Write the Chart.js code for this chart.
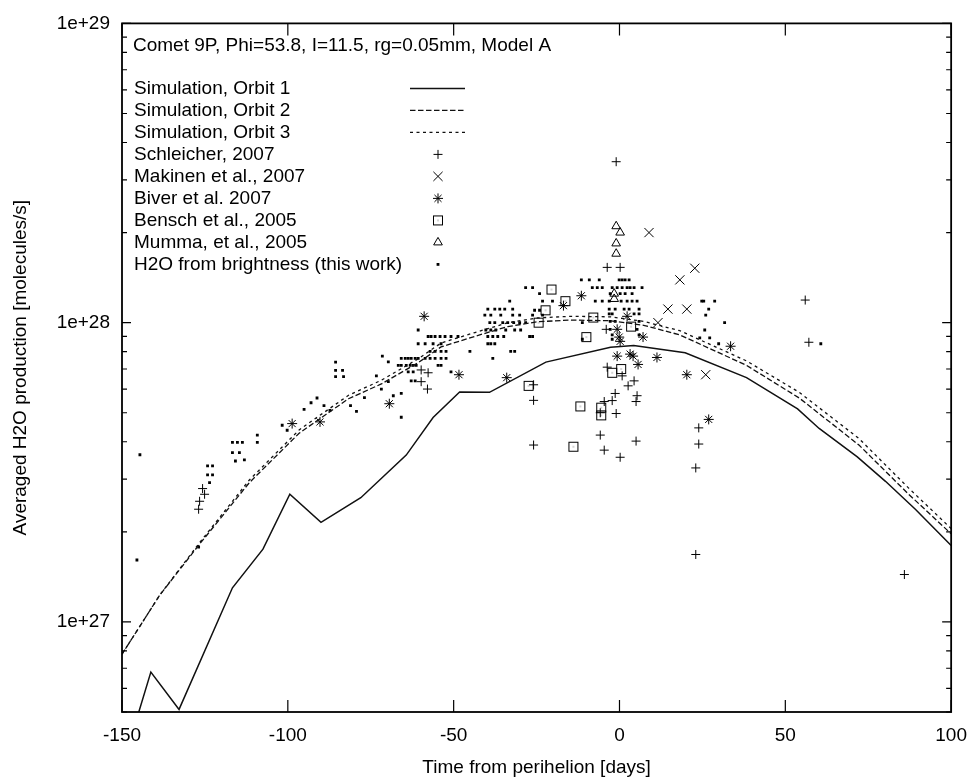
<!DOCTYPE html>
<html>
<head>
<meta charset="utf-8">
<script src="https://cdn.jsdelivr.net/npm/chart.js@4.4.1/dist/chart.umd.min.js"></script>
<style>
  html, body { margin: 0; padding: 0; background: #fff; }
</style>
</head>
<body>
<canvas id="chart" width="979" height="784"></canvas>
<script>
// axis ticks
const xTicks = [-150, -100, -50, 0, 50, 100];
const yTicks = [1e27, 1e28, 1e29];

const keyTitle = 'Comet 9P, Phi=53.8, I=11.5, rg=0.05mm, Model A';

// simulation curves, [days from perihelion, molecules/s]
const orbit1 = [
    [-147, 4.2e26], [-141.3, 6.8e26], [-132.8, 5.1e26], [-116.7, 1.3e27], [-107.5, 1.75e27],
    [-99.4, 2.67e27], [-90.0, 2.15e27], [-78.0, 2.6e27], [-64.3, 3.61e27], [-56.2, 4.82e27],
    [-48.2, 5.87e27], [-39.2, 5.85e27], [-22.2, 7.38e27], [-2.7, 8.28e27], [4.3, 8.39e27],
    [19.8, 7.93e27], [38.3, 6.55e27], [53.7, 5.15e27], [60.2, 4.43e27], [71.7, 3.56e27],
    [80.2, 2.95e27], [89.2, 2.38e27], [100, 1.8e27]
];
const orbit2 = [
    [-150, 7.8e26], [-138.6, 1.23e27], [-126.6, 1.82e27], [-111.6, 2.92e27], [-96.6, 4.27e27],
    [-81.7, 5.57e27], [-71.8, 6.24e27], [-60.7, 7.35e27], [-53.8, 8.3e27], [-43.6, 9.0e27],
    [-33.7, 9.7e27], [-24.7, 1.007e28], [-14.8, 1.02e28], [-2.7, 1.015e28], [7.3, 9.8e27],
    [18.2, 9.1e27], [38.3, 7.2e27], [54.2, 5.6e27], [72.2, 3.9e27], [87.2, 2.67e27], [100, 1.97e27]
];
const orbit3 = [
    [-150, 7.8e26], [-138.6, 1.23e27], [-126.6, 1.84e27], [-111.6, 2.98e27], [-96.6, 4.38e27],
    [-81.7, 5.72e27], [-71.8, 6.42e27], [-60.7, 7.57e27], [-53.8, 8.55e27], [-43.6, 9.27e27],
    [-33.7, 9.99e27], [-24.7, 1.037e28], [-14.8, 1.05e28], [-2.7, 1.046e28], [7.3, 1.01e28],
    [18.2, 9.4e27], [38.3, 7.45e27], [54.2, 5.85e27], [72.2, 4.1e27], [87.2, 2.8e27], [100, 2.05e27]
];

// observations
const schleicher = [
    [-125.7, 2.79e27], [-125.1, 2.67e27], [-126.6, 2.53e27], [-126.9, 2.38e27],
    [-59.8, 6.95e27], [-57.7, 6.8e27], [-59.8, 6.35e27], [-57.9, 6.0e27],
    [-25.9, 6.2e27], [-25.9, 5.5e27], [-25.9, 3.9e27],
    [-3.7, 1.53e28], [0.2, 1.53e28], [-1.0, 3.45e28], [-4.0, 9.5e27],
    [-3.7, 7.1e27], [0.8, 6.64e27], [4.4, 6.39e27], [2.6, 6.15e27], [5.3, 5.7e27],
    [-1.3, 5.8e27], [-2.2, 5.49e27], [5.0, 5.45e27], [-4.6, 5.45e27], [-1.0, 4.97e27],
    [-5.8, 5.0e27], [-5.8, 4.21e27], [5.0, 4.02e27], [-4.6, 3.75e27], [0.2, 3.55e27],
    [23.9, 4.45e27], [23.9, 3.93e27], [23.0, 3.27e27], [23.0, 1.68e27],
    [56.0, 1.19e28], [57.1, 8.6e27], [85.9, 1.44e27]
];
const makinen = [
    [8.9, 2.0e28], [22.7, 1.52e28], [18.2, 1.39e28], [14.6, 1.11e28],
    [20.3, 1.11e28], [11.6, 1.0e28], [26.0, 6.7e27]
];
const biver = [
    [-98.7, 4.6e27], [-90.3, 4.66e27], [-69.4, 5.36e27], [-58.9, 1.05e28], [-48.4, 6.7e27],
    [-34.0, 6.55e27], [-16.9, 1.14e28], [-11.5, 1.23e28], [-0.7, 9.5e27], [-0.1, 8.95e27],
    [2.3, 1.05e28], [3.2, 7.85e27], [5.6, 7.25e27], [-0.7, 7.73e27], [7.1, 8.95e27],
    [11.3, 7.65e27], [20.3, 6.7e27], [26.9, 4.75e27], [33.5, 8.34e27], [0.2, 8.66e27], [4.1, 7.73e27]
];
const bensch = [
    [-20.5, 1.29e28], [-16.3, 1.18e28], [-22.3, 1.1e28], [-24.4, 1.0e28], [-7.9, 1.04e28],
    [-10.0, 8.95e27], [3.5, 9.7e27], [-27.4, 6.15e27], [-11.8, 5.25e27], [-5.5, 5.2e27],
    [-5.5, 4.9e27], [-2.2, 6.8e27], [0.5, 7.0e27], [-13.9, 3.85e27]
];
const mumma = [
    [-1.0, 2.1e28], [0.2, 2.0e28], [-1.0, 1.84e28], [-1.0, 1.7e28], [-1.6, 1.25e28], [-1.6, 1.2e28]
];
const brightness = [
    [-144.6, 3.62e27], [-145.5, 1.61e27],
    [-124.2, 3.32e27], [-122.7, 3.32e27], [-124.2, 3.1e27], [-122.7, 3.1e27], [-123.6, 2.92e27], [-126.9, 1.78e27],
    [-116.7, 3.98e27], [-115.2, 3.98e27], [-113.7, 3.98e27], [-116.7, 3.68e27], [-114.6, 3.68e27],
    [-115.8, 3.45e27], [-113.1, 3.48e27], [-109.2, 4.21e27], [-109.2, 3.98e27],
    [-101.7, 4.54e27], [-100.2, 4.37e27], [-95.1, 5.13e27], [-93.0, 5.4e27], [-91.2, 5.6e27],
    [-89.1, 5.28e27], [-87.3, 5.09e27], [-85.6, 7.38e27], [-85.6, 6.93e27], [-83.5, 6.93e27],
    [-85.6, 6.6e27], [-83.2, 6.6e27], [-81.1, 5.28e27], [-79.3, 5.05e27], [-76.9, 5.62e27],
    [-71.5, 7.73e27], [-69.7, 7.4e27], [-73.3, 6.64e27], [-69.7, 6.35e27], [-71.8, 6.0e27], [-68.2, 5.7e27],
    [-60.7, 9.45e27],
    [-57.7, 8.99e27], [-56.8, 8.99e27], [-55.6, 8.99e27], [-54.1, 8.99e27], [-52.6, 8.99e27], [-50.8, 8.99e27], [-48.7, 8.99e27],
    [-60.7, 8.5e27], [-58.6, 8.5e27], [-56.2, 8.5e27], [-53.8, 8.5e27],
    [-57.1, 8.02e27], [-55.6, 8.02e27], [-53.8, 8.02e27], [-52.3, 8.02e27], [-45.1, 8.02e27],
    [-65.8, 7.6e27], [-64.6, 7.6e27], [-63.7, 7.6e27], [-62.8, 7.6e27], [-61.6, 7.6e27], [-60.7, 7.6e27],
    [-58.6, 7.6e27], [-57.1, 7.6e27], [-55.6, 7.6e27], [-53.8, 7.6e27], [-52.3, 7.6e27], [-38.2, 7.6e27],
    [-66.7, 7.2e27], [-65.8, 7.2e27], [-64.3, 7.2e27], [-63.1, 7.2e27], [-62.2, 7.2e27], [-61.3, 7.2e27],
    [-54.7, 7.2e27], [-53.8, 7.2e27],
    [-63.7, 6.85e27], [-62.2, 6.85e27], [-50.8, 6.85e27], [-62.8, 6.39e27], [-61.6, 6.39e27],
    [-65.8, 5.8e27], [-65.8, 4.83e27],
    [-39.7, 1.11e28], [-37.6, 1.11e28], [-36.1, 1.11e28], [-34.6, 1.11e28], [-32.2, 1.11e28],
    [-40.6, 1.06e28], [-38.8, 1.06e28], [-35.8, 1.06e28], [-32.2, 1.06e28], [-30.1, 1.06e28],
    [-39.1, 1.0e28], [-37.6, 1.0e28], [-35.2, 1.0e28], [-33.7, 1.0e28], [-31.9, 1.0e28], [-30.1, 1.0e28], [-28.3, 1.0e28],
    [-40.3, 9.45e27], [-38.8, 9.45e27], [-37.3, 9.45e27], [-34.3, 9.45e27], [-31.6, 9.45e27], [-29.8, 9.45e27],
    [-39.7, 8.99e27], [-38.2, 8.99e27], [-36.7, 8.99e27], [-34.9, 8.99e27],
    [-39.7, 8.5e27], [-38.8, 8.5e27], [-37.6, 8.5e27], [-32.8, 8.02e27], [-31.6, 8.02e27],
    [-28.3, 1.31e28], [-26.2, 1.31e28], [-24.1, 1.25e28], [-33.1, 1.18e28], [-23.2, 1.18e28], [-20.2, 1.18e28],
    [-25.6, 1.1e28], [-24.1, 1.1e28], [-26.2, 1.06e28], [-23.2, 1.06e28], [-27.1, 8.99e27], [-26.2, 8.99e27],
    [-11.5, 1.39e28], [-9.1, 1.39e28], [-6.1, 1.39e28], [-0.1, 1.39e28], [0.8, 1.39e28], [1.7, 1.39e28], [2.9, 1.39e28],
    [-8.2, 1.31e28], [-6.7, 1.31e28], [-5.2, 1.31e28], [-2.2, 1.31e28], [-0.7, 1.31e28], [0.8, 1.31e28],
    [2.3, 1.31e28], [3.2, 1.31e28], [4.4, 1.31e28], [6.8, 1.31e28],
    [-2.8, 1.25e28], [0.2, 1.25e28], [1.7, 1.25e28], [3.8, 1.25e28],
    [-7.3, 1.18e28], [-5.2, 1.18e28], [-3.1, 1.18e28], [0.5, 1.18e28], [2.3, 1.18e28], [3.8, 1.18e28], [5.3, 1.18e28],
    [-3.1, 1.11e28], [-1.3, 1.11e28], [1.4, 1.11e28], [2.9, 1.11e28], [5.9, 1.11e28],
    [-3.1, 1.07e28], [-2.2, 1.07e28], [4.4, 1.07e28], [5.9, 1.07e28],
    [-2.8, 1.01e28], [-1.3, 1.01e28], [5.9, 1.01e28], [-11.2, 1.0e28],
    [-2.8, 9.5e27], [5.3, 9.5e27], [-2.2, 9.1e27], [5.9, 9.1e27], [-11.2, 8.8e27], [-2.2, 8.8e27],
    [24.8, 1.18e28], [25.4, 1.18e28], [28.7, 1.18e28], [26.9, 1.11e28], [26.0, 1.06e28], [31.7, 1.0e28],
    [25.7, 9.45e27], [24.2, 8.9e27], [27.2, 8.9e27], [29.9, 8.5e27], [60.7, 8.5e27]
];

const FONT = { family: "'Liberation Sans', Arial, sans-serif", size: 19 };
const INK = '#000';
const HOLLOW = 'rgba(0,0,0,0)';

const toXY = (arr) => arr.map(([x, y]) => ({ x: x, y: y }));

// gnuplot's open box carries a small dot in the middle
function boxWithDot(side) {
    const c = document.createElement('canvas');
    c.width = side + 2;
    c.height = side + 2;
    const g = c.getContext('2d');
    g.strokeStyle = INK;
    g.lineWidth = 1;
    g.strokeRect(1.5, 1.5, side - 1, side - 1);
    g.fillStyle = '#555';
    g.fillRect(c.width / 2 - 0.5, c.height / 2 - 0.5, 1, 1);
    return c;
}

function curve(label, pts, dash, width) {
    return {
        label: label, data: toXY(pts), showLine: true, borderColor: '#111', borderWidth: width,
        borderDash: dash, pointRadius: 0, pointHoverRadius: 0, fill: false, tension: 0
    };
}
function marks(label, pts, style, radius, filled) {
    return {
        label: label, data: toXY(pts), showLine: false, pointStyle: style, pointRadius: radius,
        pointBorderColor: INK, pointBackgroundColor: filled ? INK : HOLLOW,
        pointBorderWidth: filled ? 0 : 1, pointHoverRadius: radius
    };
}

const datasets = [
    curve('Simulation, Orbit 1', orbit1, [], 1.5),
    curve('Simulation, Orbit 2', orbit2, [5.5, 2.5], 1.3),
    curve('Simulation, Orbit 3', orbit3, [3, 3.5], 1.3),
    marks('Schleicher, 2007', schleicher, 'cross', 4.5, false),
    marks('Makinen et al., 2007', makinen, 'crossRot', 6.5, false),
    marks('Biver et al. 2007', biver, 'star', 5, false),
    marks('Bensch et al., 2005', bensch, boxWithDot(10), 5, false),
    marks('Mumma, et al., 2005', mumma, 'triangle', 5, false),
    marks('H2O from brightness (this work)', brightness, 'rect', 2, true)
];

// gnuplot style frame, inward ticks and key inside the plot
const gnuplotFrame = {
    id: 'gnuplotFrame',
    afterDatasetsDraw(chart) {
        const { ctx, chartArea: a, scales: { x, y } } = chart;
        ctx.save();
        ctx.strokeStyle = INK;
        ctx.lineWidth = 1.2;
        ctx.beginPath();
        xTicks.forEach((t) => {
            const px = x.getPixelForValue(t);
            ctx.moveTo(px, a.bottom); ctx.lineTo(px, a.bottom - 12);
            ctx.moveTo(px, a.top); ctx.lineTo(px, a.top + 12);
        });
        const e0 = Math.floor(Math.log10(y.min)), e1 = Math.ceil(Math.log10(y.max));
        for (let e = e0; e <= e1; e++) {
            for (let m = 1; m <= 9; m++) {
                const v = m * Math.pow(10, e);
                if (v < y.min * 0.999 || v > y.max * 1.001) continue;
                const py = y.getPixelForValue(v);
                const len = m === 1 ? 9 : 5;
                ctx.moveTo(a.left, py); ctx.lineTo(a.left + len, py);
                ctx.moveTo(a.right, py); ctx.lineTo(a.right - len, py);
            }
        }
        ctx.stroke();
        ctx.lineWidth = 1.8;
        ctx.strokeRect(a.left, a.top, a.right - a.left, a.bottom - a.top);

        // key
        ctx.font = FONT.size + 'px ' + FONT.family;
        ctx.fillStyle = INK;
        ctx.textBaseline = 'middle';
        ctx.textAlign = 'left';
        ctx.fillText(keyTitle, a.left + 11, a.top + 22);
        const tx = a.left + 12, sx0 = a.left + 288, sx1 = a.left + 343, mx = a.left + 316;
        chart.data.datasets.forEach((ds, i) => {
            const ry = a.top + 65 + i * 22;
            ctx.fillStyle = INK;
            ctx.fillText(ds.label, tx, ry);
            ctx.save();
            if (ds.showLine) {
                ctx.strokeStyle = ds.borderColor;
                ctx.lineWidth = ds.borderWidth;
                ctx.setLineDash(ds.borderDash);
                ctx.beginPath();
                ctx.moveTo(sx0, ry); ctx.lineTo(sx1, ry);
                ctx.stroke();
            } else {
                ctx.strokeStyle = ds.pointBorderColor;
                ctx.fillStyle = ds.pointBackgroundColor;
                ctx.lineWidth = ds.pointBorderWidth;
                Chart.helpers.drawPoint(ctx, {
                    pointStyle: ds.pointStyle, radius: ds.pointRadius, rotation: 0,
                    borderWidth: ds.pointBorderWidth
                }, mx, ry);
            }
            ctx.restore();
        });
        ctx.restore();
    }
};

new Chart(document.getElementById('chart').getContext('2d'), {
    type: 'scatter',
    data: { datasets: datasets },
    plugins: [gnuplotFrame],
    options: {
        responsive: false,
        animation: false,
        devicePixelRatio: 1,
        layout: { padding: { left: 0, top: 13, right: 22, bottom: 0 } },
        plugins: { legend: { display: false }, tooltip: { enabled: false } },
        scales: {
            x: {
                type: 'linear',
                min: -150,
                max: 100,
                afterBuildTicks: (s) => { s.ticks = xTicks.map((v) => ({ value: v })); },
                afterFit: (s) => { s.height = 72; },
                ticks: { font: FONT, color: INK, padding: 12, maxRotation: 0, autoSkip: false },
                grid: { display: false, drawTicks: false },
                border: { display: false },
                title: {
                    display: true, text: 'Time from perihelion [days]', font: FONT, color: INK,
                    padding: { top: 0, bottom: 5 }
                }
            },
            y: {
                type: 'logarithmic',
                min: 5e26,
                max: 1e29,
                afterBuildTicks: (s) => { s.ticks = yTicks.map((v) => ({ value: v })); },
                afterFit: (s) => { s.width = 122; },
                ticks: {
                    font: FONT, color: INK, padding: 12, autoSkip: false,
                    callback: (v) => '1e+' + Math.round(Math.log10(v))
                },
                grid: { display: false, drawTicks: false },
                border: { display: false },
                title: {
                    display: true, text: 'Averaged H2O production [molecules/s]', font: FONT, color: INK,
                    padding: { top: 9, bottom: 0 }
                }
            }
        }
    }
});
</script>
</body>
</html>
